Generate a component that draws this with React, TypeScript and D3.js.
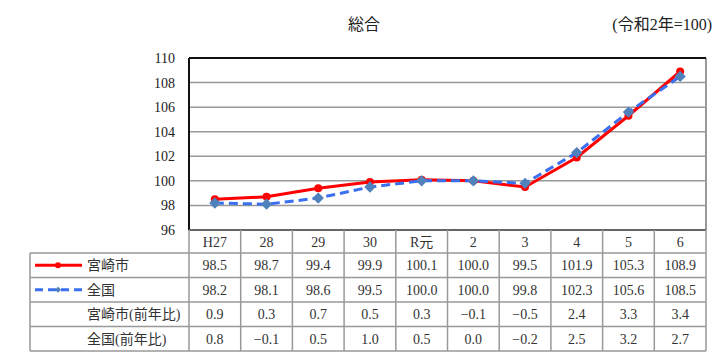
import * as d3 from 'd3';
import React from 'react';

const years = ['H27', '28', '29', '30', 'R元', '2', '3', '4', '5', '6'];
const miyazaki = [98.5, 98.7, 99.4, 99.9, 100.1, 100.0, 99.5, 101.9, 105.3, 108.9];
const zenkoku = [98.2, 98.1, 98.6, 99.5, 100.0, 100.0, 99.8, 102.3, 105.6, 108.5];
const miyazakiYoY = ['0.9', '0.3', '0.7', '0.5', '0.3', '−0.1', '−0.5', '2.4', '3.3', '3.4'];
const zenkokuYoY = ['0.8', '−0.1', '0.5', '1.0', '0.5', '0.0', '−0.2', '2.5', '3.2', '2.7'];
const yTicks = [96, 98, 100, 102, 104, 106, 108, 110];

const FONT = "'Liberation Serif', 'Noto Sans CJK JP', serif";
const RED = '#ff0000';
const BLUE = '#3a6ff0';
const DIAMOND = '#4f81bd';

export default function App() {
    const width = 726, height = 361;
    const left = 189, right = 706, top = 58, bottom = 230;
    const tableLeft = 30;
    const rowH = 24.5;

    const x = d3.scaleBand<string>().domain(years).range([left, right]);
    const y = d3.scaleLinear().domain([96, 110]).range([bottom, top]);
    const cx = (d: string) => (x(d) as number) + x.bandwidth() / 2;

    const line = d3.line<number>()
        .x((_, i) => cx(years[i]))
        .y(d => y(d));

    // square rotated 45° -> even diamond
    const diamond = d3.symbol().type(d3.symbolSquare).size(64)();
    const rowsTop = bottom + 23;
    const rows = [
        { label: '宮崎市', values: miyazaki.map(v => v.toFixed(1)), key: 'm' },
        { label: '全国', values: zenkoku.map(v => v.toFixed(1)), key: 'z' },
        { label: '宮崎市(前年比)', values: miyazakiYoY, key: 'my' },
        { label: '全国(前年比)', values: zenkokuYoY, key: 'zy' },
    ];
    const tableBottom = rowsTop + rows.length * rowH;
    const gridColor = '#999';
    const txt = { fontFamily: FONT };

    return (
        <svg width={width} height={height} style={{ display: 'block', position: 'absolute', left: 0, top: 0, fontFamily: FONT }}>
            <rect width={width} height={height} fill="#fff" />
            <text x={364} y={30} textAnchor="middle" fontSize={16} fill="#222" style={txt}>総合</text>
            <text x={712} y={30} textAnchor="end" fontSize={16} fill="#222" style={txt}>(令和2年=100)</text>

            {/* grid */}
            {yTicks.map(t => (
                <g key={t}>
                    <line x1={left} x2={right} y1={y(t)} y2={y(t)} stroke="#999" strokeWidth={1.5} />
                    <text x={left - 14} y={y(t) + 5} textAnchor="end" fontSize={14} fill="#222" style={txt}>{t}</text>
                </g>
            ))}
            <line x1={right} x2={right} y1={top} y2={bottom} stroke="#999" strokeWidth={2} />
            <line x1={left} x2={right} y1={top} y2={top} stroke="#111" strokeWidth={2} />
            <line x1={left} x2={left} y1={top} y2={bottom} stroke="#111" strokeWidth={2} />
            <line x1={left} x2={right} y1={bottom} y2={bottom} stroke="#666" strokeWidth={2} />

            {/* table */}
            <g stroke={gridColor} strokeWidth={1.5}>
                {rows.map((_, i) => (
                    <line key={i} x1={tableLeft} x2={right} y1={rowsTop + i * rowH} y2={rowsTop + i * rowH} />
                ))}
                <line x1={tableLeft} x2={right} y1={tableBottom} y2={tableBottom} />
                <line x1={tableLeft} x2={tableLeft} y1={rowsTop} y2={tableBottom} />
                {years.map(d => (
                    <line key={d} x1={x(d)} x2={x(d)} y1={bottom} y2={tableBottom} />
                ))}
                <line x1={right} x2={right} y1={bottom} y2={tableBottom} />
            </g>
            {years.map(d => (
                <text key={d} x={cx(d)} y={bottom + 17} textAnchor="middle" fontSize={14} fill="#333" style={txt}>{d}</text>
            ))}
            {rows.map((r, i) => (
                <g key={r.key}>
                    <text x={87} y={rowsTop + i * rowH + 17} fontSize={14} fill="#333" style={txt}>{r.label}</text>
                    {r.values.map((v, j) => (
                        <text key={j} x={cx(years[j])} y={rowsTop + i * rowH + 17} textAnchor="middle" fontSize={14} fill="#333" style={txt}>{v}</text>
                    ))}
                </g>
            ))}

            {/* legend keys */}
            <line x1={35} x2={82} y1={rowsTop + rowH / 2} y2={rowsTop + rowH / 2} stroke={RED} strokeWidth={3} />
            <circle cx={58} cy={rowsTop + rowH / 2} r={3} fill={RED} />
            <line x1={35} x2={82} y1={rowsTop + rowH * 1.5} y2={rowsTop + rowH * 1.5} stroke={BLUE} strokeWidth={3} strokeDasharray="8 5" />
            <path d={diamond} transform={`translate(58,${rowsTop + rowH * 1.5}) rotate(45) scale(0.55)`} fill={DIAMOND} />

            {/* series */}
            <path d={line(miyazaki) as string} fill="none" stroke={RED} strokeWidth={3} />
            {miyazaki.map((v, i) => (
                <circle key={i} cx={cx(years[i])} cy={y(v)} r={4} fill={RED} />
            ))}
            <path d={line(zenkoku) as string} fill="none" stroke={BLUE} strokeWidth={3} strokeDasharray="9 5" />
            {zenkoku.map((v, i) => (
                <path key={i} d={diamond} transform={`translate(${cx(years[i])},${y(v)}) rotate(45)`} fill={DIAMOND} />
            ))}
        </svg>
    );
}
